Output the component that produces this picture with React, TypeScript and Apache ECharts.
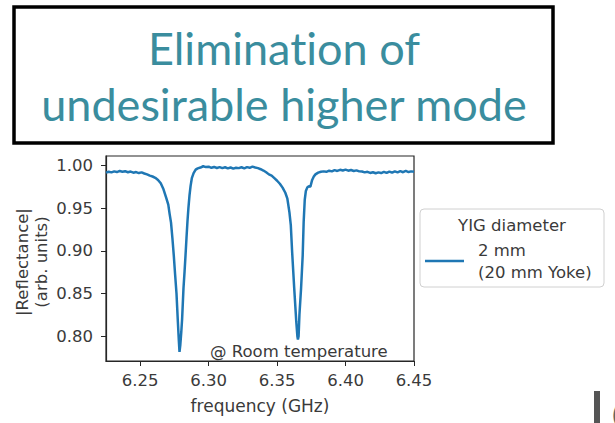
import React, { useEffect, useRef } from "react";
import * as echarts from "echarts";

const frequency = [
  6.225, 6.227, 6.229, 6.231, 6.233, 6.235, 6.237, 6.239, 6.241, 6.243,
  6.245, 6.247, 6.249, 6.251, 6.253, 6.255, 6.257, 6.259, 6.261, 6.263,
  6.265, 6.267, 6.269, 6.2705, 6.2715, 6.2725, 6.2735, 6.2745, 6.2755, 6.2765,
  6.2775, 6.2782, 6.2787, 6.2793, 6.28, 6.2806, 6.2816, 6.2824, 6.2831, 6.2838,
  6.2845, 6.2852, 6.286, 6.2868, 6.2877, 6.289, 6.2905, 6.292, 6.294, 6.296,
  6.298, 6.3, 6.302, 6.304, 6.306, 6.308, 6.31, 6.312, 6.314, 6.316,
  6.318, 6.32, 6.322, 6.324, 6.326, 6.328, 6.33, 6.332, 6.334, 6.336,
  6.338, 6.34, 6.342, 6.344, 6.346, 6.348, 6.35, 6.352, 6.354, 6.356,
  6.3575, 6.359, 6.36, 6.361, 6.3625, 6.364, 6.3648, 6.3652, 6.3657, 6.3663,
  6.3675, 6.3687, 6.3694, 6.3702, 6.371, 6.372, 6.3732, 6.3743, 6.3756, 6.3768,
  6.378, 6.38, 6.382, 6.384, 6.386, 6.388, 6.39, 6.392, 6.394, 6.396,
  6.398, 6.4, 6.402, 6.404, 6.406, 6.408, 6.41, 6.412, 6.414, 6.416,
  6.418, 6.42, 6.422, 6.424, 6.426, 6.428, 6.43, 6.432, 6.434, 6.436,
  6.438, 6.44, 6.442, 6.444, 6.446, 6.448, 6.45,
];

const reflectance = [
  0.9915, 0.9925, 0.9918, 0.993, 0.9922, 0.9935, 0.9926, 0.9932, 0.992, 0.9928,
  0.9915, 0.9922, 0.991, 0.9918, 0.9905, 0.9895, 0.988, 0.987, 0.9855, 0.983,
  0.979, 0.972, 0.962, 0.954, 0.943, 0.933, 0.915, 0.895, 0.872, 0.85,
  0.817, 0.795, 0.7816, 0.79, 0.805, 0.82, 0.856, 0.876, 0.895, 0.915,
  0.934, 0.95, 0.965, 0.976, 0.985, 0.991, 0.995, 0.9965, 0.9975, 0.999,
  0.998, 0.9985, 0.9972, 0.9982, 0.997, 0.998, 0.9968, 0.9978, 0.9965, 0.9975,
  0.9962, 0.9972, 0.9968, 0.9978, 0.9966, 0.998, 0.9972, 0.9985, 0.9975, 0.9968,
  0.9955, 0.994, 0.992, 0.9895, 0.988, 0.985, 0.982, 0.9785, 0.974, 0.968,
  0.961, 0.945, 0.93, 0.898, 0.856, 0.817, 0.8, 0.7961, 0.8, 0.825,
  0.856, 0.895, 0.934, 0.96, 0.97, 0.974, 0.9755, 0.975, 0.983, 0.987,
  0.9895, 0.9915, 0.9925, 0.993, 0.9925, 0.9938, 0.993, 0.9945, 0.9935, 0.9948,
  0.994, 0.995, 0.9938, 0.9946, 0.9935, 0.9942, 0.993, 0.9928, 0.9918, 0.9925,
  0.9912, 0.992, 0.9908, 0.9918, 0.991, 0.9925, 0.9912, 0.9928, 0.9915, 0.993,
  0.9918, 0.9932, 0.992, 0.9935, 0.9922, 0.993, 0.9925,
];

const xTicks = [6.25, 6.3, 6.35, 6.4, 6.45];
const yTicks = [0.8, 0.85, 0.9, 0.95, 1.0];
const seriesName = "2 mm\n(20 mm Yoke)";
const legendTitle = "YIG diameter";
const titleLines = ["Eliminat\u200Cion of", "undesirable higher mode"];
const annotation = "@ Room temperature";
const xLabel = "frequency (GHz)";
const yLabel = "|Reflectance|\n(arb. units)";

const FONT = "'DejaVu Sans', 'Noto Sans', sans-serif";
const TEXT = "#3a3a3a";
const TITLE_COLOR = "#3a8d9e";

export default function App() {
  const ref = useRef<HTMLDivElement>(null);

  useEffect(() => {
    if (!ref.current) return;
    const chart = echarts.init(ref.current, undefined, { renderer: "svg" });
    const data = frequency.map((f, i) => [f, reflectance[i]]);

    chart.setOption({
      animation: false,
      backgroundColor: "#ffffff",
      grid: {
        left: 106,
        top: 156,
        width: 308,
        height: 205,
        show: true,
        borderColor: "#262626",
        borderWidth: 1.2,
        backgroundColor: "transparent",
      },
      xAxis: {
        type: "value",
        min: 6.225,
        max: 6.45,
        axisLine: { show: true, lineStyle: { color: "#262626", width: 1.2 } },
        splitLine: { show: false },
        axisTick: {
          show: true,
          customValues: xTicks,
          length: 5,
          lineStyle: { color: "#262626", width: 1 },
        },
        axisLabel: {
          customValues: xTicks,
          formatter: (v: number) => v.toFixed(2),
          fontSize: 16.5,
          color: TEXT,
          fontFamily: FONT,
          margin: 11,
        },
      },
      yAxis: {
        type: "value",
        min: 0.771,
        max: 1.011,
        axisLine: { show: true, lineStyle: { color: "#262626", width: 1.2 } },
        splitLine: { show: false },
        axisTick: {
          show: true,
          customValues: yTicks,
          length: 5,
          lineStyle: { color: "#262626", width: 1 },
        },
        axisLabel: {
          customValues: yTicks,
          formatter: (v: number) => v.toFixed(2),
          fontSize: 16.5,
          color: TEXT,
          fontFamily: FONT,
          margin: 13,
        },
      },
      legend: {
        left: 425,
        top: 239,
        padding: 0,
        icon: "rect",
        itemWidth: 39,
        itemHeight: 2.5,
        data: [seriesName],
        textStyle: {
          fontSize: 16.5,
          color: TEXT,
          fontFamily: FONT,
          lineHeight: 22,
          padding: [0, 0, 0, 9],
        },
      },
      series: [
        {
          name: seriesName,
          type: "line",
          data,
          showSymbol: false,
          symbol: "none",
          lineStyle: { color: "#1f77b4", width: 2.5 },
          itemStyle: { color: "#1f77b4" },
        },
      ],
      graphic: [
        {
          type: "rect",
          shape: { x: 14, y: 7, width: 539, height: 136 },
          style: { fill: "#ffffff", stroke: "#000000", lineWidth: 3.5 },
          z: 1,
        },
        {
          type: "text",
          x: 284,
          y: 48,
          style: {
            text: titleLines[0],
            fill: TITLE_COLOR,
            fontSize: 45,
            fontFamily: "Lato, sans-serif",
            align: "center",
            verticalAlign: "middle",
          },
          z: 2,
        },
        {
          type: "text",
          x: 284,
          y: 104,
          style: {
            text: titleLines[1],
            fill: TITLE_COLOR,
            fontSize: 45,
            fontFamily: "Lato, sans-serif",
            align: "center",
            verticalAlign: "middle",
          },
          z: 2,
        },
        {
          type: "rect",
          shape: { x: 420, y: 209, width: 184, height: 78, r: 4 },
          style: { fill: "#ffffff", stroke: "#d0d0d0", lineWidth: 1 },
          z: 0,
        },
        {
          type: "text",
          x: 512,
          y: 225,
          style: {
            text: legendTitle,
            fill: TEXT,
            fontSize: 16.5,
            fontFamily: FONT,
            align: "center",
            verticalAlign: "middle",
          },
        },
        {
          type: "text",
          x: 210,
          y: 351,
          style: {
            text: annotation,
            fill: TEXT,
            fontSize: 16.5,
            fontFamily: FONT,
            align: "left",
            verticalAlign: "middle",
          },
          z: 5,
        },
        {
          type: "text",
          x: 260,
          y: 406,
          style: {
            text: xLabel,
            fill: TEXT,
            fontSize: 17,
            fontFamily: FONT,
            align: "center",
            verticalAlign: "middle",
          },
        },
        {
          type: "text",
          x: 32,
          y: 262,
          rotation: Math.PI / 2,
          style: {
            text: yLabel,
            fill: TEXT,
            fontSize: 16.5,
            lineHeight: 19,
            fontFamily: FONT,
            align: "center",
            verticalAlign: "middle",
          },
        },
        {
          type: "rect",
          shape: { x: 594, y: 391, width: 6, height: 32 },
          style: { fill: "#555555" },
        },
        {
          type: "text",
          x: 611,
          y: 415,
          style: {
            text: "(",
            fill: "#666666",
            fontSize: 28,
            fontFamily: FONT,
            align: "left",
            verticalAlign: "middle",
          },
        },
      ],
    });

    return () => chart.dispose();
  }, []);

  return (
    <div
      ref={ref}
      style={{ position: "fixed", left: 0, top: 0, width: 615, height: 423 }}
    />
  );
}
